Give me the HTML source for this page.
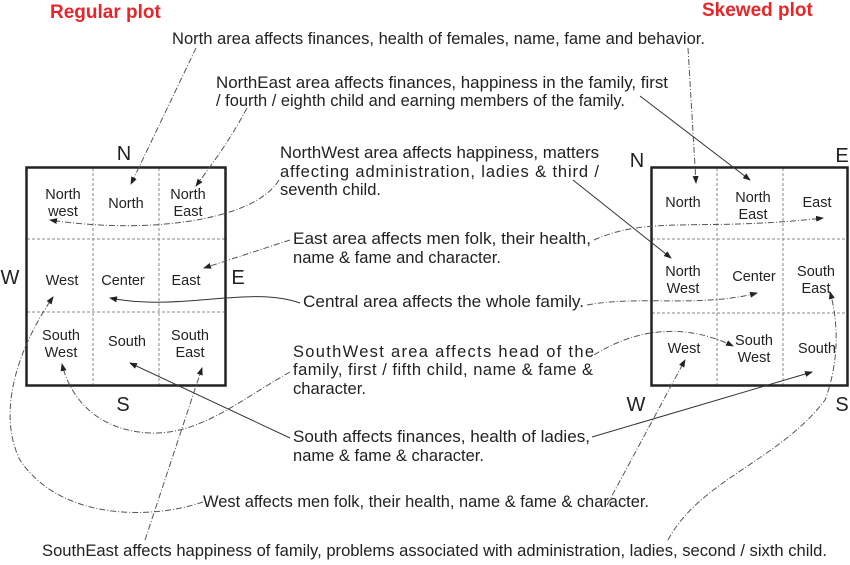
<!DOCTYPE html>
<html><head><meta charset="utf-8"><style>
html,body{margin:0;padding:0;background:#fff;}
svg{display:block;font-family:"Liberation Sans",Arial,sans-serif;}
.t{font-size:16.5px;fill:#222;}
.c{font-size:14.5px;fill:#222;text-anchor:middle;}
.d{font-size:20px;fill:#222;text-anchor:middle;}
.r{font-size:19px;font-weight:bold;fill:#e8262a;}
.dl{fill:none;stroke:#555;stroke-width:1;stroke-dasharray:6,2,1,2;}
.sl{fill:none;stroke:#333;stroke-width:1;}
.g{stroke:#888;stroke-width:1;stroke-dasharray:3,2;}
</style></head><body>
<svg width="850" height="565" viewBox="0 0 850 565" xmlns="http://www.w3.org/2000/svg">
<defs><marker id="a" markerWidth="8" markerHeight="6" refX="7" refY="3" orient="auto" markerUnits="userSpaceOnUse"><path d="M0,0 L8,3 L0,6 z" fill="#222"/></marker></defs>

<text class="r" x="50" y="18">Regular plot</text>
<text class="r" x="702" y="16">Skewed plot</text>

<line class="g" x1="93" y1="168" x2="93" y2="385"/><line class="g" x1="159" y1="168" x2="159" y2="385"/>
<line class="g" x1="27" y1="239" x2="225" y2="239"/><line class="g" x1="27" y1="312" x2="225" y2="312"/>
<rect x="26.5" y="167.5" width="199" height="218" fill="none" stroke="#222" stroke-width="2.5"/>
<text class="c" x="63" y="199">North</text><text class="c" x="63" y="216">west</text>
<text class="c" x="126" y="208">North</text>
<text class="c" x="188" y="199">North</text><text class="c" x="188" y="216">East</text>
<text class="c" x="62" y="285">West</text><text class="c" x="123" y="285">Center</text><text class="c" x="186" y="285">East</text>
<text class="c" x="61" y="340">South</text><text class="c" x="61" y="357">West</text>
<text class="c" x="127" y="346">South</text>
<text class="c" x="190" y="340">South</text><text class="c" x="190" y="357">East</text>
<text class="d" x="124" y="160">N</text><text class="d" x="123" y="411">S</text>
<text class="d" x="10" y="284">W</text><text class="d" x="238" y="284">E</text>

<line class="g" x1="717" y1="168" x2="717" y2="385"/><line class="g" x1="783" y1="168" x2="783" y2="385"/>
<line class="g" x1="652" y1="239" x2="847" y2="239"/><line class="g" x1="652" y1="313" x2="847" y2="313"/>
<rect x="651.5" y="167.5" width="196" height="218" fill="none" stroke="#222" stroke-width="2.5"/>
<text class="c" x="683" y="207">North</text>
<text class="c" x="753" y="202">North</text><text class="c" x="753" y="219">East</text>
<text class="c" x="817" y="207">East</text>
<text class="c" x="683" y="276">North</text><text class="c" x="683" y="293">West</text>
<text class="c" x="754" y="281">Center</text>
<text class="c" x="816" y="276">South</text><text class="c" x="816" y="293">East</text>
<text class="c" x="684" y="353">West</text>
<text class="c" x="754" y="345">South</text><text class="c" x="754" y="362">West</text>
<text class="c" x="817" y="353">South</text>
<text class="d" x="637" y="167">N</text><text class="d" x="842" y="162">E</text>
<text class="d" x="636" y="411">W</text><text class="d" x="842" y="411">S</text>

<text class="t" x="172" y="44" textLength="533" lengthAdjust="spacingAndGlyphs">North area affects finances, health of females, name, fame and behavior.</text>
<text class="t" x="216" y="88" textLength="452" lengthAdjust="spacingAndGlyphs">NorthEast area affects finances, happiness in the family, first</text>
<text class="t" x="216" y="106" textLength="409" lengthAdjust="spacingAndGlyphs">/ fourth / eighth child and earning members of the family.</text>
<text class="t" x="280" y="158" textLength="319" lengthAdjust="spacingAndGlyphs">NorthWest area affects happiness, matters</text>
<text class="t" x="280" y="177" textLength="319">affecting administration, ladies &amp; third /</text>
<text class="t" x="280" y="195" textLength="101" lengthAdjust="spacingAndGlyphs">seventh child.</text>
<text class="t" x="293" y="244" textLength="298" lengthAdjust="spacingAndGlyphs">East area affects men folk, their health,</text>
<text class="t" x="293" y="263" textLength="208" lengthAdjust="spacingAndGlyphs">name &amp; fame and character.</text>
<text class="t" x="303" y="307" textLength="281" lengthAdjust="spacingAndGlyphs">Central area affects the whole family.</text>
<text class="t" x="293" y="357" textLength="301">SouthWest area affects head of the</text>
<text class="t" x="293" y="375" textLength="300">family, first / fifth child, name &amp; fame &amp;</text>
<text class="t" x="293" y="394" textLength="73" lengthAdjust="spacingAndGlyphs">character.</text>
<text class="t" x="293" y="442" textLength="297" lengthAdjust="spacingAndGlyphs">South affects finances, health of ladies,</text>
<text class="t" x="293" y="461" textLength="191" lengthAdjust="spacingAndGlyphs">name &amp; fame &amp; character.</text>
<text class="t" x="203" y="507" textLength="446" lengthAdjust="spacingAndGlyphs">West affects men folk, their health, name &amp; fame &amp; character.</text>
<text class="t" x="42" y="556" textLength="785" lengthAdjust="spacingAndGlyphs">SouthEast affects happiness of family, problems associated with administration, ladies, second / sixth child.</text>

<path class="dl" d="M196,48 L131,184" marker-end="url(#a)"/>
<path class="dl" d="M688,48 L696,183" marker-end="url(#a)"/>
<path class="dl" d="M247,108 C230,140 215,160 196,186" marker-end="url(#a)"/>
<path class="sl" d="M640,96 L750,180" marker-end="url(#a)"/>
<path class="dl" d="M279,180 C255,220 150,235 50,220" marker-end="url(#a)"/>
<path class="sl" d="M573,180 L671,258" marker-end="url(#a)"/>
<path class="dl" d="M290,240 L204,268" marker-end="url(#a)"/>
<path class="dl" d="M594,240 C650,215 700,232 823,218" marker-end="url(#a)"/>
<path class="sl" d="M300,303 C250,285 180,312 110,298" marker-end="url(#a)"/>
<path class="dl" d="M587,305 C640,295 700,308 757,293" marker-end="url(#a)"/>
<path class="dl" d="M290,372 C240,400 200,435 150,433 C90,430 68,390 62,364" marker-end="url(#a)"/>
<path class="dl" d="M594,355 C650,320 700,330 733,346" marker-end="url(#a)"/>
<path class="sl" d="M290,438 L130,363" marker-end="url(#a)"/>
<path class="sl" d="M592,437 L812,372" marker-end="url(#a)"/>
<path class="dl" d="M203,502 C150,520 60,520 20,460 C0,420 10,360 53,297" marker-end="url(#a)"/>
<path class="dl" d="M607,505 L685,360" marker-end="url(#a)"/>
<path class="dl" d="M145,540 L202,368" marker-end="url(#a)"/>
<path class="dl" d="M668,540 C700,480 780,460 825,400 C840,360 838,320 830,292" marker-end="url(#a)"/>
</svg>
</body></html>
